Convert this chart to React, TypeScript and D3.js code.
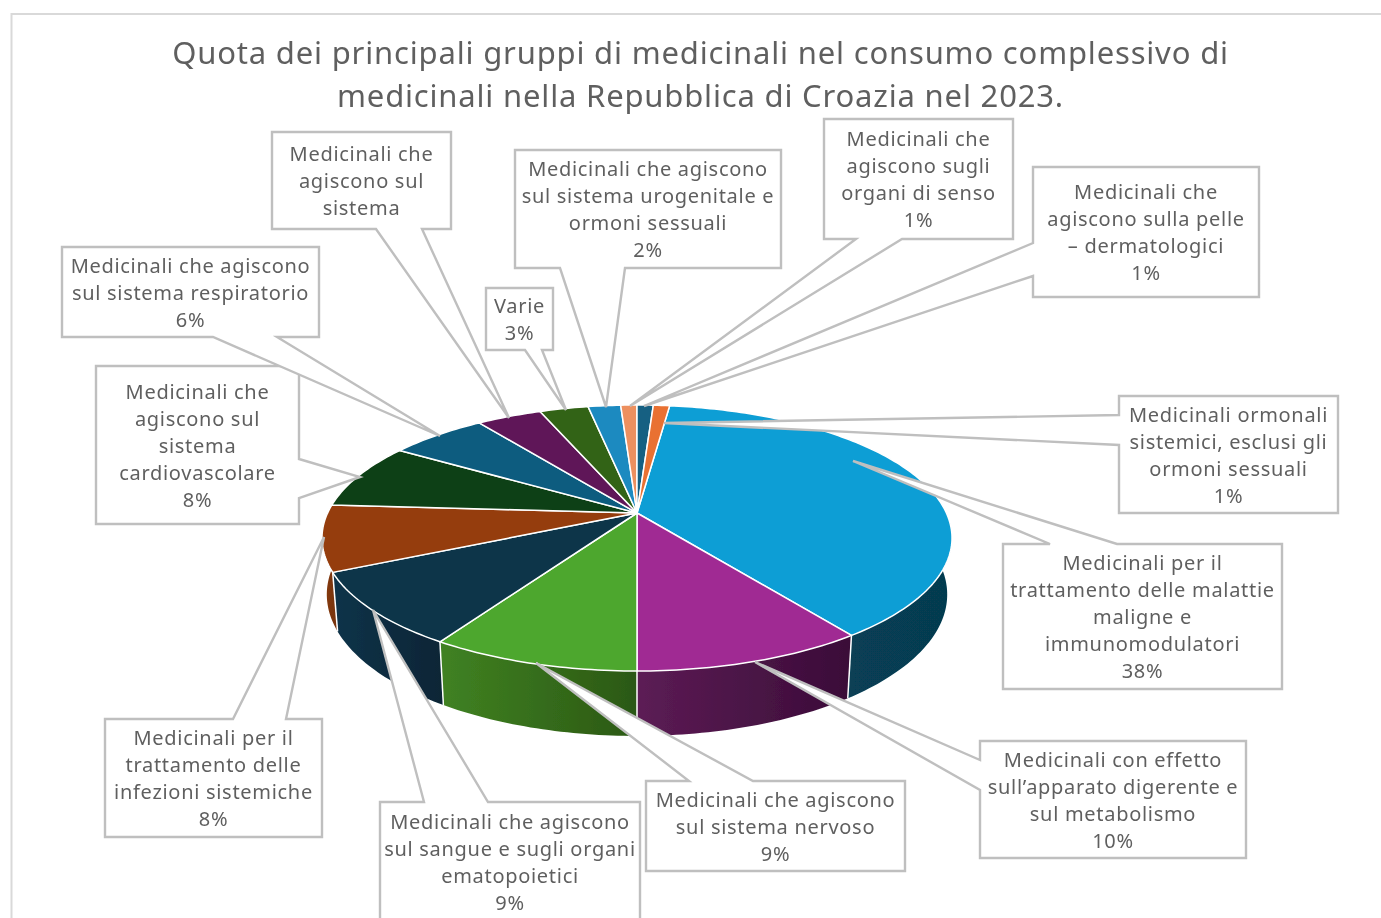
import React from 'react';
import * as d3 from 'd3';

const titleLines = [
  'Quota dei principali gruppi di medicinali nel consumo complessivo di',
  'medicinali nella Repubblica di Croazia nel 2023.',
];

// Slices in drawing order, clockwise from the start angle
const categories = [
  'Malattie maligne e immunomodulatori', 'Apparato digerente e metabolismo', 'Sistema nervoso',
  'Sangue e organi ematopoietici', 'Infezioni sistemiche', 'Sistema cardiovascolare',
  'Sistema respiratorio', 'Sistema (muscolo-scheletrico)', 'Varie', 'Sistema urogenitale',
  'Organi di senso', 'Dermatologici', 'Ormonali sistemici',
];
const shares = [38, 10, 9, 9, 8, 8, 6, 4, 3, 2, 1, 1, 1];
const topColors = [
  '#0f9ed5', '#a02b93', '#4ea72e', '#0b3649', '#953e0d', '#0e3f14', '#0a5c7f',
  '#5f1858', '#316317', '#1f8ac0', '#ed905f', '#156082', '#e97132',
];
const wallLeft = ['#073f55', '#5c1c55', '#408222', '#0d3349', '#8b3a0f', '#0e3f14', '#0a5c7f', '#5f1858', '#316317', '#1f8ac0', '#ed905f', '#156082', '#e97132'];
const wallRight = ['#063a4f', '#3a0c38', '#2b5814', '#072536', '#7a3510', '#0e3f14', '#0a5c7f', '#5f1858', '#316317', '#1f8ac0', '#ed905f', '#156082', '#e97132'];

const labelLines = [
  ['Medicinali per il', 'trattamento delle malattie', 'maligne e', 'immunomodulatori'],
  ['Medicinali con effetto', 'sull’apparato digerente e', 'sul metabolismo'],
  ['Medicinali che agiscono', 'sul sistema nervoso'],
  ['Medicinali che agiscono', 'sul sangue e sugli organi', 'ematopoietici'],
  ['Medicinali per il', 'trattamento delle', 'infezioni sistemiche'],
  ['Medicinali che', 'agiscono sul', 'sistema', 'cardiovascolare'],
  ['Medicinali che agiscono', 'sul sistema respiratorio'],
  ['Medicinali che', 'agiscono sul', 'sistema'],
  ['Varie'],
  ['Medicinali che agiscono', 'sul sistema urogenitale e', 'ormoni sessuali'],
  ['Medicinali che', 'agiscono sugli', 'organi di senso'],
  ['Medicinali che', 'agiscono sulla pelle', '– dermatologici'],
  ['Medicinali ormonali', 'sistemici, esclusi gli', 'ormoni sessuali'],
];
// the label of this slice is cut off in the original, no percent shown
const hidePercent = ['Sistema (muscolo-scheletrico)'];

// Callout layout: box, side the wedge leaves from, wedge base on that side, tip
type Side = 'top' | 'bottom' | 'left' | 'right';
const calloutLayout: { x0: number; y0: number; x1: number; y1: number; side: Side; a: number; b: number; tip: [number, number] }[] = [
  { x0: 1003, y0: 544, x1: 1282, y1: 689, side: 'top', a: 1050, b: 1117, tip: [853, 461] },
  { x0: 980, y0: 741, x1: 1246, y1: 858, side: 'left', a: 760, b: 790, tip: [755, 662] },
  { x0: 646, y0: 781, x1: 905, y1: 871, side: 'top', a: 689, b: 753, tip: [536, 663] },
  { x0: 380, y0: 802, x1: 640, y1: 930, side: 'top', a: 424, b: 488, tip: [373, 610] },
  { x0: 105, y0: 719, x1: 322, y1: 837, side: 'top', a: 233, b: 286, tip: [324, 537] },
  { x0: 96, y0: 366, x1: 299, y1: 524, side: 'right', a: 459, b: 498, tip: [360, 477] },
  { x0: 62, y0: 247, x1: 319, y1: 337, side: 'bottom', a: 213, b: 277, tip: [440, 436] },
  { x0: 272, y0: 132, x1: 451, y1: 229, side: 'bottom', a: 376, b: 422, tip: [509, 418] },
  { x0: 486, y0: 288, x1: 553, y1: 350, side: 'bottom', a: 525, b: 542, tip: [566, 410] },
  { x0: 515, y0: 150, x1: 781, y1: 268, side: 'bottom', a: 560, b: 625, tip: [606, 407] },
  { x0: 824, y0: 119, x1: 1013, y1: 239, side: 'bottom', a: 856, b: 902, tip: [630, 406] },
  { x0: 1033, y0: 167, x1: 1259, y1: 297, side: 'left', a: 243, b: 276, tip: [644, 406] },
  { x0: 1119, y0: 396, x1: 1338, y1: 513, side: 'left', a: 415, b: 445, tip: [664, 423] },
];

const WIDTH = 1381;
const HEIGHT = 918;
const FONT = '"Noto Sans", sans-serif';
const TEXT = '#5f5f5f';
const GREY = '#bfbfbf';

// perspective of the pie disc
const cx = 637;
const cy = 513;
const scaleX = 309.4;
const scaleY = 128.3;
const persp = 0.188;
const depth = 56.1;
const depthPersp = 0.015;
const rad = d3.scaleLinear().domain([0, 360]).range([0, 2 * Math.PI]);

const topPoint = (t: number): [number, number] => {
  const x = Math.sin(t);
  const y = -Math.cos(t);
  const w = 1 - persp * y;
  return [cx + (scaleX * x) / w, cy + (scaleY * y) / w];
};
const bottomPoint = (t: number): [number, number] => {
  const x = Math.sin(t);
  const y = -Math.cos(t);
  const w = 1 - persp * y + depthPersp;
  return [cx + (scaleX * x) / w, cy + (scaleY * y + depth) / w];
};

const sampleAngles = (a: number, b: number) => {
  const n = Math.max(2, Math.ceil((b - a) / rad(1)));
  return d3.range(n + 1).map(i => a + ((b - a) * i) / n);
};

const line = d3.line();

const calloutPath = (c: (typeof calloutLayout)[number]) => {
  const { x0, y0, x1, y1, side, a, b, tip } = c;
  const pts: [number, number][] = [[x0, y0]];
  if (side === 'top') pts.push([a, y0], tip, [b, y0]);
  pts.push([x1, y0]);
  if (side === 'right') pts.push([x1, a], tip, [x1, b]);
  pts.push([x1, y1]);
  if (side === 'bottom') pts.push([b, y1], tip, [a, y1]);
  pts.push([x0, y1]);
  if (side === 'left') pts.push([x0, b], tip, [x0, a]);
  return line(pts) + 'Z';
};

export default function App() {
  const arcs = d3
    .pie<number>()
    .sort(null)
    .startAngle(rad(7.2))
    .endAngle(rad(367.2))(shares);

  const wallFrom = rad(88);
  const wallTo = rad(275);
  const walls = arcs
    .map((d, i) => ({ a: Math.max(d.startAngle, wallFrom), b: Math.min(d.endAngle, wallTo), i }))
    .filter(d => d.b > d.a);

  return (
    <svg
      width={WIDTH}
      height={HEIGHT}
      style={{ position: 'absolute', left: 0, top: 0, background: '#fff' }}
    >
      <defs>
        {/* the original is a slightly soft screenshot */}
        <filter id="soft" filterUnits="userSpaceOnUse" x={0} y={0} width={WIDTH} height={HEIGHT}>
          <feGaussianBlur stdDeviation={0.45} />
        </filter>
        {walls.map(({ a, b, i }) => {
          const xs = sampleAngles(a, b).map(t => topPoint(t)[0]);
          return (
            <linearGradient
              key={i}
              id={`wall-${i}`}
              gradientUnits="userSpaceOnUse"
              x1={d3.min(xs)}
              x2={d3.max(xs)}
              y1={0}
              y2={0}
            >
              <stop offset="0" stopColor={wallLeft[i]} />
              <stop offset="1" stopColor={wallRight[i]} />
            </linearGradient>
          );
        })}
      </defs>

      <g filter="url(#soft)">
        <path d={`M${WIDTH},14H11.5V${HEIGHT}`} fill="none" stroke="#d9d9d9" strokeWidth={2} />

        {titleLines.map((t, i) => (
          <text
            key={t}
            x={700.5}
            y={64 + i * 43}
            textAnchor="middle"
            fontFamily={FONT}
            fontSize={31}
            letterSpacing={0.82}
            fill={TEXT}
          >
            {t}
          </text>
        ))}

        {/* outer wall of the disc */}
        <g>
          {walls.map(({ a, b, i }) => {
            const ts = sampleAngles(a, b);
            const pts = [...ts.map(topPoint), ...ts.slice().reverse().map(bottomPoint)];
            return <path key={i} d={line(pts) + 'Z'} fill={`url(#wall-${i})`} />;
          })}
          {walls
            .filter(({ a }) => a > wallFrom)
            .map(({ a, i }) => (
              <path key={i} d={line([topPoint(a), bottomPoint(a)])!} stroke="#fff" strokeWidth={1.5} fill="none" />
            ))}
        </g>

        {/* top face */}
        <g>
          {arcs.map((d, i) => (
            <path
              key={categories[i]}
              d={line([[cx, cy], ...sampleAngles(d.startAngle, d.endAngle).map(topPoint)]) + 'Z'}
              fill={topColors[i]}
              stroke="#fff"
              strokeWidth={1.5}
              strokeLinejoin="round"
            />
          ))}
        </g>

        {/* data callouts */}
        <g>
          {calloutLayout.map((c, i) => {
            const lines = hidePercent.includes(categories[i])
              ? labelLines[i]
              : [...labelLines[i], `${shares[i]}%`];
            const step = 27;
            const midX = (c.x0 + c.x1) / 2;
            const midY = i === 3 ? 861.5 : (c.y0 + c.y1) / 2;
            return (
              <g key={categories[i]}>
                <path d={calloutPath(c)} fill="#fff" stroke={GREY} strokeWidth={2.4} />
                {lines.map((t, j) => (
                  <text
                    key={j}
                    x={midX}
                    y={midY + (j - (lines.length - 1) / 2) * step}
                    dy="0.38em"
                    textAnchor="middle"
                    fontFamily={FONT}
                    fontSize={20}
                    letterSpacing={0.7}
                    fill={TEXT}
                  >
                    {t}
                  </text>
                ))}
              </g>
            );
          })}
        </g>
      </g>
    </svg>
  );
}
